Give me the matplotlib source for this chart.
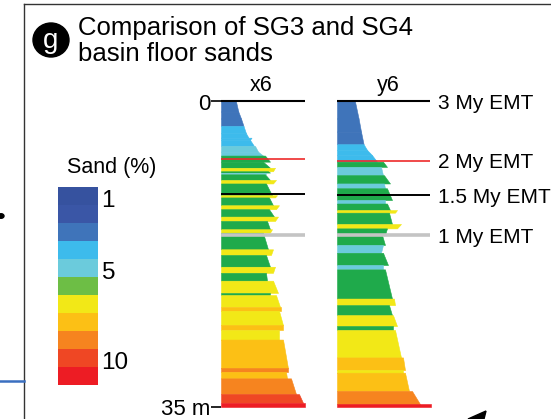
import matplotlib.pyplot as plt
import matplotlib.patches as patches
from matplotlib.lines import Line2D

plt.rcParams['font.family'] = ['Liberation Sans', 'DejaVu Sans']

### Data

# sand classes: 1..11 (legend order, low -> high sand %)
legend_colors = ['#36529f', '#3a56a6', '#3f74ba', '#3dbbec', '#6bcbdc', '#6dbe45',
                 '#f2e817', '#fcc015', '#f6841f', '#ef4724', '#ed1c24']
legend_ticks = {1: '1', 5: '5', 10: '10'}
# the logs draw class 6 in a darker green
log_colors = dict(zip(range(1, 12), legend_colors))
log_colors[6] = '#1faa4b'

# x6 log: band top depth (m), width at top, width at base, sand class
x6_top = [0, 1.15, 1.95, 2.8, 3.65, 4.15, 4.4, 5.1, 5.75, 6.2, 6.9, 7.6, 8.0, 8.15, 8.35,
          9.0, 9.4, 10.75, 11.0, 11.9, 12.35, 13.2, 13.7, 14.65, 15.05, 16.95, 17.6, 18.95,
          19.65, 20.55, 21.95, 22.2, 23.55, 24.0, 25.65, 26.2, 27.3, 30.6, 31.0, 31.75,
          33.55, 34.55]
x6_wtop = [15, 17.3, 20, 22.5, 25, 30.5, 29, 34, 37, 44, 42, 54, 47, 45, 44,
           55, 45, 56, 48, 58, 48, 57, 46, 51, 42, 52, 45, 54,
           45, 52, 49, 55, 60, 58, 62, 58, 62, 67, 65, 70,
           78, 84]
x6_wbot = [17.3, 20, 22.5, 25, 27.5, 29, 33, 37, 42, 49, 49, 52, 49, 45, 49,
           52, 51, 54, 52, 55, 53, 54, 49, 49, 47, 50, 49, 52,
           46, 57, 49, 59, 60, 62, 62, 58, 67, 67, 66, 75,
           82, 84]
x6_cls = [3, 3, 3, 4, 4, 4, 4, 5, 5, 6, 6, 7, 6, 5, 6,
          7, 6, 7, 6, 7, 6, 7, 6, 7, 6, 7, 6, 7,
          6, 7, 6, 7, 8, 7, 8, 7, 8, 9, 8, 9,
          10, 11]

# y6 log
y6_top = [0, 1.95, 3.45, 4.9, 5.55, 6.15, 6.9, 7.5, 8.45, 9.4, 9.95, 11.3, 11.7, 12.45,
          12.75, 14.05, 14.55, 15.3, 16.45, 17.35, 18.75, 19.25, 22.6, 23.35, 24.5,
          25.75, 26.2, 29.35, 30.8, 31.1, 33.2, 34.7]
y6_wtop = [18, 21.6, 24, 26.6, 30, 35, 46, 44, 47, 47, 50, 48, 50, 60,
           52, 64, 50, 45, 46, 46, 46, 48, 57, 52, 56,
           56, 58, 66, 66, 68, 75, 94]
y6_wbot = [21.6, 24, 26.6, 30, 35, 40, 50, 46, 53, 48, 55, 48, 53, 58,
           55, 60, 48, 48, 44, 51, 46, 55, 58, 55, 60,
           56, 64, 68, 66, 72, 83, 94]
y6_cls = [3, 3, 3, 4, 4, 4, 6, 5, 6, 5, 6, 5, 6, 7,
          6, 7, 6, 6, 5, 6, 5, 6, 7, 6, 7,
          6, 7, 8, 7, 8, 9, 11]

base_depth = 35

# time lines (EMT) depth in each log
emt_labels = ['3 My EMT', '2 My EMT', '1.5 My EMT', '1 My EMT']
emt_colors = ['black', '#ee2a2a', 'black', '#c4c4c4']
emt_widths = [1.5, 1.2, 1.4, 2.6]
x6_emt = [0, 6.63, 10.61, 15.32]
y6_emt = [0, 6.8, 10.73, 15.32]


### Figure

W, H = 551, 419
fig = plt.figure(figsize=(W / 100, H / 100), dpi=100)


def box(x0, y0, x1, y1):
    return [x0 / W, 1 - y1 / H, (x1 - x0) / W, (y1 - y0) / H]


def draw_log(ax, tops, wtop, wbot, cls, emt, line_len, name, name_x):
    bots = tops[1:] + [base_depth]
    for t, b, w0, w1, c in zip(tops, bots, wtop, wbot, cls):
        col = log_colors[c]
        ax.fill_betweenx([t, b], 0, [w0, w1], color=col, lw=0.4, ec=col)
    for d, c, lw in zip(emt, emt_colors, emt_widths):
        ax.plot([0, line_len], [d, d], color=c, lw=lw, clip_on=False, solid_capstyle='butt')
    ax.set_xlim(0, 100)
    ax.set_ylim(base_depth, 0)
    for s in ax.spines.values():
        s.set_visible(False)
    ax.set_xticks([])
    ax.text(name_x, -0.6, name, ha='center', va='bottom', fontsize=15.5)


ax1 = fig.add_axes(box(221, 101.5, 321, 406.7))
draw_log(ax1, x6_top, x6_wtop, x6_wbot, x6_cls, x6_emt, 84, 'x6', 40)
ax1.set_yticks([0, base_depth])
ax1.set_yticklabels(['0', '35 m'])
ax1.tick_params(axis='y', length=7, width=1.2, pad=0.5, labelsize=16)

ax2 = fig.add_axes(box(337, 101.5, 437, 406.7))
draw_log(ax2, y6_top, y6_wtop, y6_wbot, y6_cls, y6_emt, 93, 'y6', 51)
ax2.set_yticks([])
for d, lab in zip(y6_emt, emt_labels):
    ax2.text(101, d + 0.25, lab, ha='left', va='center', fontsize=15, clip_on=False)

# legend
axl = fig.add_axes(box(57.7, 186.7, 98.3, 385))
n = len(legend_colors)
axl.barh(range(n), [1] * n, height=1, left=0, color=legend_colors)
axl.set_ylim(n - 0.5, -0.5)
axl.set_xlim(0, 1)
axl.axis('off')
for k, lab in legend_ticks.items():
    axl.text(1.08, k - 1 + 0.3, lab, ha='left', va='center', fontsize=17.5)
fig.text(112 / W, 1 - 167 / H, 'Sand (%)', ha='center', va='center', fontsize=15.5)

# title
fig.add_artist(patches.Ellipse((51 / W, 1 - 40 / H), 36 / W, 34 / H, color='black'))
fig.text(51 / W, 1 - 41 / H, 'g', color='white', ha='center', va='center', fontsize=20)
fig.text(78 / W, 1 - 35 / H, 'Comparison of SG3 and SG4', fontsize=18.5, va='baseline')
fig.text(78 / W, 1 - 61 / H, 'basin floor sands', fontsize=18.5, va='baseline')

# panel frame and bits of the neighbouring panels
fig.add_artist(Line2D([24 / W, 24 / W], [0, 1 - 4 / H], color='#333333', lw=1))
fig.add_artist(Line2D([24 / W, 1], [1 - 4 / H, 1 - 4 / H], color='#333333', lw=1))
fig.add_artist(Line2D([0, 24 / W], [1 - 381 / H, 1 - 381 / H], color='#3a6fc0', lw=1.8))
fig.add_artist(patches.Circle((1 / W, 1 - 216 / H), 3 / W, color='black'))
fig.add_artist(patches.Polygon([(468 / W, 0), (486 / W, 1 - 411 / H), (484 / W, 0)],
                               closed=True, color='black'))

fig.savefig('out.png', dpi=100)
